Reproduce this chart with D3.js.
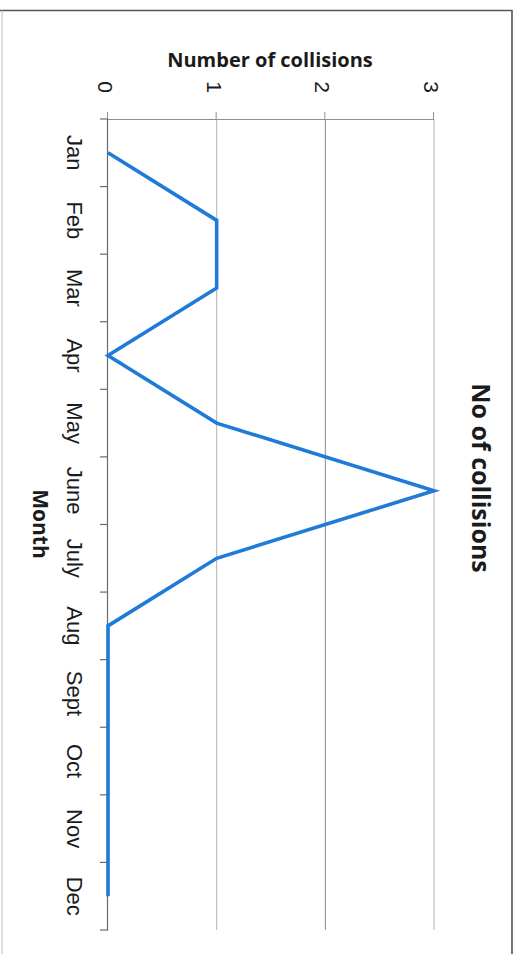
<!DOCTYPE html>
<html>
<head>
<meta charset="utf-8">
<script src="https://cdn.jsdelivr.net/npm/d3@7"></script>
<style>
  html, body { margin: 0; padding: 0; background: #ffffff; }
  svg { display: block; }
</style>
</head>
<body>
<svg id="chart" width="530" height="954"></svg>
<script>
// Monthly collision counts
const months = ["Jan", "Feb", "Mar", "Apr", "May", "June", "July", "Aug", "Sept", "Oct", "Nov", "Dec"];
const collisions = [0, 1, 1, 0, 1, 3, 1, 0, 0, 0, 0, 0];
const valueTicks = [0, 1, 2, 3];

const chartTitle = "No of collisions";
const xTitle = "Month";
const yTitle = "Number of collisions";

const pageW = 530, pageH = 954;
const svg = d3.select("#chart");

// Frame around the whole chart: darker top and right edges, faint left edge
const frame = svg.append("g").attr("fill", "none");
frame.append("path")
  .attr("d", "M0,10.5 H512 V954")
  .attr("stroke", "#555555")
  .attr("stroke-width", 1.6);
frame.append("path")
  .attr("d", "M2,10.5 V954")
  .attr("stroke", "#c8c8c8")
  .attr("stroke-width", 1.2);

// The chart is laid out in its own upright frame and turned a quarter turn clockwise
const g = svg.append("g")
  .attr("transform", `translate(${pageW},0) rotate(90)`);

const x = d3.scaleBand().domain(months).range([119, 930]);
const y = d3.scaleLinear().domain([0, 3]).range([422, 96]);

const textColor = "#1b1b1b";

// Horizontal gridlines
g.append("g").selectAll("line")
  .data(valueTicks.filter(v => v > 0))
  .join("line")
  .attr("x1", x.range()[0]).attr("x2", x.range()[1])
  .attr("y1", d => y(d)).attr("y2", d => y(d))
  .attr("stroke", (d) => d === 2 ? "#8c8c8c" : "#b4b4b4")
  .attr("stroke-width", 1);

// Value axis
const yAxis = g.append("g")
  .attr("transform", `translate(${x.range()[0]},0)`)
  .call(d3.axisLeft(y).tickValues(valueTicks).tickFormat(d3.format("d")).tickSize(7).tickPadding(19));
yAxis.select(".domain").attr("stroke", "#8f8f8f");
yAxis.selectAll(".tick line").attr("stroke", "#8f8f8f");
yAxis.selectAll("text")
  .attr("font-family", "'Liberation Sans', Arial, sans-serif")
  .attr("font-size", 21)
  .attr("fill", textColor)
  .attr("dy", "0.45em");

// Category axis
const xAxis = g.append("g")
  .attr("transform", `translate(0,${y(0)})`)
  .call(d3.axisBottom(x).tickSize(0).tickSizeOuter(0));
xAxis.select(".domain").attr("stroke", "#6a6a6a").attr("stroke-width", 1.2);
xAxis.selectAll("text")
  .attr("font-family", "'Liberation Sans', Arial, sans-serif")
  .attr("font-size", 22)
  .attr("fill", textColor)
  .attr("y", 41)
  .attr("dy", 0);

// Tick marks between categories
const boundaries = d3.range(months.length + 1).map(i => x.range()[0] + i * x.step());
g.append("g").selectAll("line")
  .data(boundaries)
  .join("line")
  .attr("x1", d => d).attr("x2", d => d)
  .attr("y1", y(0)).attr("y2", y(0) + 8)
  .attr("stroke", "#6a6a6a")
  .attr("stroke-width", 1.2);

// Data line
const line = d3.line()
  .x((d, i) => x(months[i]) + x.bandwidth() / 2)
  .y(d => y(d));

g.append("path")
  .datum(collisions)
  .attr("d", line)
  .attr("fill", "none")
  .attr("stroke", "#1f7ad8")
  .attr("stroke-width", 3.6)
  .attr("stroke-linejoin", "miter");

// Titles
g.append("text")
  .attr("x", 478).attr("y", 58)
  .attr("text-anchor", "middle")
  .attr("font-family", "'Open Sans', sans-serif")
  .attr("font-weight", "bold")
  .attr("font-size", 25)
  .attr("fill", textColor)
  .text(chartTitle);

g.append("text")
  .attr("x", 524).attr("y", 497)
  .attr("text-anchor", "middle")
  .attr("font-family", "'Open Sans', sans-serif")
  .attr("font-weight", "bold")
  .attr("font-size", 21)
  .attr("fill", textColor)
  .text(xTitle);

g.append("text")
  .attr("transform", `translate(67,${pageW - 270}) rotate(-90)`)
  .attr("text-anchor", "middle")
  .attr("font-family", "'Open Sans', sans-serif")
  .attr("font-weight", "bold")
  .attr("font-size", 20)
  .attr("fill", textColor)
  .text(yTitle);
</script>
</body>
</html>
